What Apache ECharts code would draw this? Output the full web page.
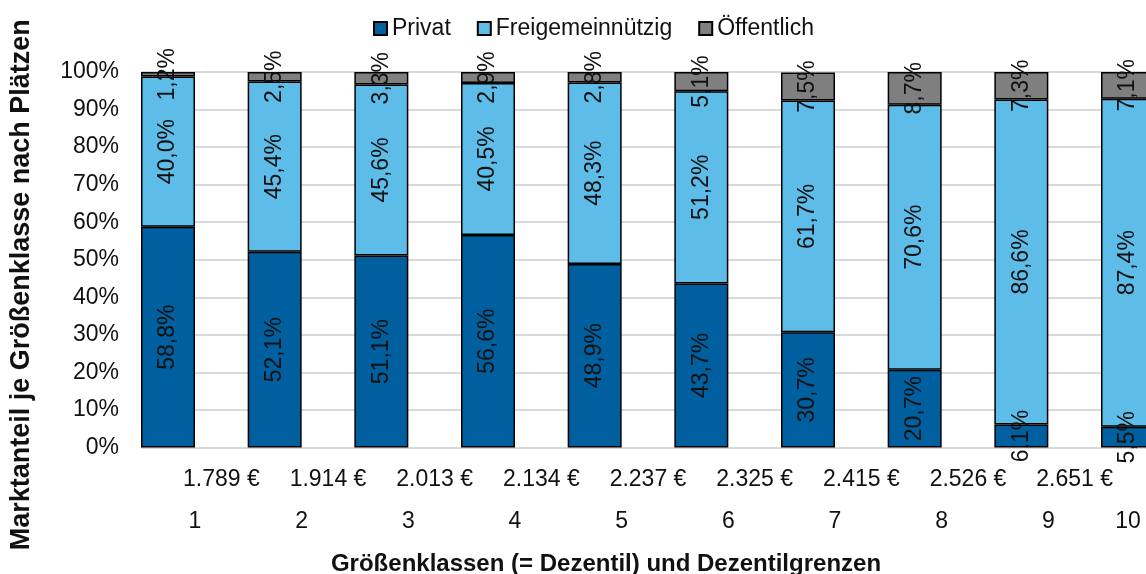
<!DOCTYPE html>
<html>
<head>
<meta charset="utf-8">
<script src="https://cdn.jsdelivr.net/npm/echarts@6/dist/echarts.min.js"></script>
<style>
  html, body { margin: 0; padding: 0; background: #fff; }
  #chart { width: 1146px; height: 574px; }
</style>
</head>
<body>
<div id="chart"></div>
<script>
// Größenklassen (Dezentile) und die Grenzen zwischen ihnen
const classes = ['1', '2', '3', '4', '5', '6', '7', '8', '9', '10'];
const priceBounds = ['1.789 €', '1.914 €', '2.013 €', '2.134 €', '2.237 €', '2.325 €', '2.415 €', '2.526 €', '2.651 €', ''];

// Marktanteile je Trägerart in Prozent
const privat = [58.8, 52.1, 51.1, 56.6, 48.9, 43.7, 30.7, 20.7, 6.1, 5.5];
const freigemeinnuetzig = [40.0, 45.4, 45.6, 40.5, 48.3, 51.2, 61.7, 70.6, 86.6, 87.4];
const oeffentlich = [1.2, 2.5, 3.3, 2.9, 2.8, 5.1, 7.5, 8.7, 7.3, 7.1];

const yTicks = { min: 0, max: 100, interval: 10 };

const FONT = "'Liberation Sans', Arial, sans-serif";
const TXT = '#111';
const FS = 23;

const fmtPct = v => v.toFixed(1).replace('.', ',') + '%';

const chart = echarts.init(document.getElementById('chart'), null, { renderer: 'canvas' });

// Balkenraster reicht über den rechten Rand hinaus
const gridLeft = 114.67;
const gridWidth = 1066.67;
const catW = gridWidth / classes.length;

function barSeries(name, data, color) {
  return {
    name: name,
    type: 'bar',
    stack: 'anteil',
    xAxisIndex: 0,
    yAxisIndex: 0,
    barWidth: 54,
    data: data,
    itemStyle: { color: color, borderColor: '#000', borderWidth: 1.5 },
    label: {
      show: true,
      position: 'inside',
      rotate: 90,
      color: TXT,
      fontFamily: FONT,
      fontSize: FS,
      formatter: p => fmtPct(p.value)
    },
    emphasis: { disabled: true }
  };
}

chart.setOption({
  animation: false,
  backgroundColor: '#fff',
  textStyle: { fontFamily: FONT },
  legend: {
    left: 368,
    top: 12,
    itemWidth: 13,
    itemHeight: 13,
    itemGap: 26,
    icon: 'rect',
    textStyle: { fontFamily: FONT, fontSize: FS, color: TXT, padding: [0, 0, 0, 0] },
    data: ['Privat', 'Freigemeinnützig', 'Öffentlich']
  },
  grid: [
    // Balken
    { left: gridLeft, top: 72, width: gridWidth, height: 375.5, outerBoundsMode: 'none', containLabel: false },
    // Hilfslinien und Prozentskala
    { left: 141, top: 72, width: 1100, height: 375.5, outerBoundsMode: 'none', containLabel: false }
  ],
  xAxis: [
    {
      type: 'category',
      gridIndex: 0,
      data: classes,
      boundaryGap: true,
      axisLine: { show: false },
      axisTick: { show: false },
      axisLabel: {
        interval: 0,
        margin: 63,
        color: TXT,
        fontFamily: FONT,
        fontSize: FS,
        formatter: (v, i) => i === classes.length - 1 ? '{e|' + v + '}' : '{n|' + v + '}',
        rich: {
          n: { padding: [0, 0, 0, 54], fontSize: FS, fontFamily: FONT, color: TXT },
          e: { fontSize: FS, fontFamily: FONT, color: TXT }
        }
      },
      name: 'Größenklassen (= Dezentil) und Dezentilgrenzen',
      nameLocation: 'middle',
      nameGap: 105,
      nameTextStyle: {
        fontFamily: FONT, fontSize: 24, fontWeight: 'bold', color: TXT,
        padding: [0, 84, 0, 0]
      }
    },
    {
      type: 'category',
      gridIndex: 0,
      position: 'bottom',
      data: priceBounds,
      boundaryGap: true,
      axisLine: { show: false },
      axisTick: { show: false },
      axisLabel: {
        interval: 0,
        margin: 21,
        color: TXT,
        fontFamily: FONT,
        fontSize: FS,
        padding: [0, 0, 0, catW]
      }
    },
    {
      type: 'value',
      gridIndex: 1,
      show: false,
      min: 0,
      max: 1
    }
  ],
  yAxis: [
    {
      type: 'value',
      gridIndex: 0,
      min: yTicks.min,
      max: yTicks.max,
      interval: yTicks.interval,
      show: false
    },
    {
      type: 'value',
      gridIndex: 1,
      min: yTicks.min,
      max: yTicks.max,
      interval: yTicks.interval,
      axisLine: { show: false },
      axisTick: { show: false },
      splitLine: { show: true, lineStyle: { color: '#d9d9d9', width: 2 } },
      axisLabel: {
        margin: 22,
        color: TXT,
        fontFamily: FONT,
        fontSize: FS,
        formatter: '{value}%'
      },
      name: 'Marktanteil je Größenklasse nach Plätzen',
      nameLocation: 'middle',
      nameGap: 106,
      nameRotate: 90,
      nameTextStyle: {
        fontFamily: FONT, fontSize: 27, fontWeight: 'bold', color: TXT,
        padding: [0, 50, 0, 0]
      }
    }
  ],
  series: [
    barSeries('Privat', privat, '#005f9e'),
    barSeries('Freigemeinnützig', freigemeinnuetzig, '#5ebde8'),
    barSeries('Öffentlich', oeffentlich, '#7f7f7f')
  ]
});
</script>
</body>
</html>
